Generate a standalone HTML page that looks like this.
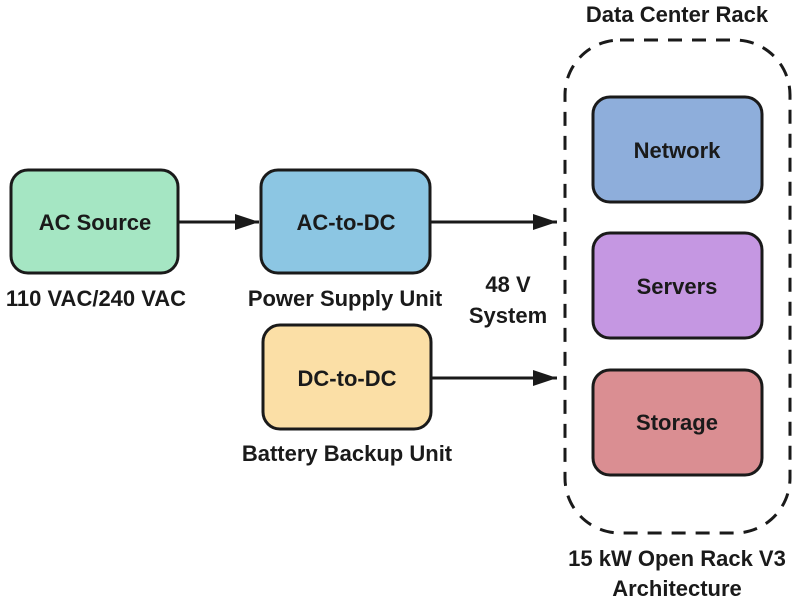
<!DOCTYPE html>
<html><head><meta charset="utf-8"><style>
html,body{margin:0;padding:0;background:#fff;}
svg{display:block;}
text{font-family:"Liberation Sans",sans-serif;font-weight:bold;fill:#1a1a1a;text-anchor:middle;}
</style></head><body>
<svg width="796" height="600" viewBox="0 0 796 600" xmlns="http://www.w3.org/2000/svg">
<defs>
<marker id="b" viewBox="0 0 24 16" markerWidth="24" markerHeight="16" refX="24" refY="8" orient="auto" markerUnits="userSpaceOnUse"><path d="M0,0 L24,8 L0,16 z" fill="#1a1a1a"/></marker></defs>
<g stroke="#1a1a1a" stroke-width="3">
<rect x="11" y="170" width="167" height="103" rx="17" fill="#a5e6c3"/>
<rect x="261" y="170" width="169" height="103" rx="17" fill="#8cc6e3"/>
<rect x="263" y="325" width="168" height="104" rx="17" fill="#fbdfa6"/>
<rect x="593" y="97" width="169" height="105" rx="17" fill="#8eaedb"/>
<rect x="593" y="233" width="169" height="105" rx="17" fill="#c597e2"/>
<rect x="593" y="370" width="169" height="105" rx="17" fill="#da8e92"/>
<rect x="565" y="40" width="225" height="493" rx="55" fill="none" stroke-dasharray="14,10"/>
<line x1="178" y1="222" x2="259" y2="222" marker-end="url(#b)"/>
<line x1="430" y1="222" x2="557" y2="222" marker-end="url(#b)"/>
<line x1="431" y1="378" x2="557" y2="378" marker-end="url(#b)"/>
</g>
<g font-size="22">
<text x="95" y="230">AC Source</text>
<text x="346" y="230">AC-to-DC</text>
<text x="347" y="386">DC-to-DC</text>
<text x="677" y="158">Network</text>
<text x="677" y="294">Servers</text>
<text x="677" y="430">Storage</text>
<text x="677" y="22">Data Center Rack</text>
<text x="96" y="306">110 VAC/240 VAC</text>
<text x="345" y="306">Power Supply Unit</text>
<text x="508" y="292">48 V</text>
<text x="508" y="323">System</text>
<text x="347" y="461">Battery Backup Unit</text>
<text x="677" y="566">15 kW Open Rack V3</text>
<text x="677" y="596">Architecture</text>
</g>
</svg>
</body></html>
